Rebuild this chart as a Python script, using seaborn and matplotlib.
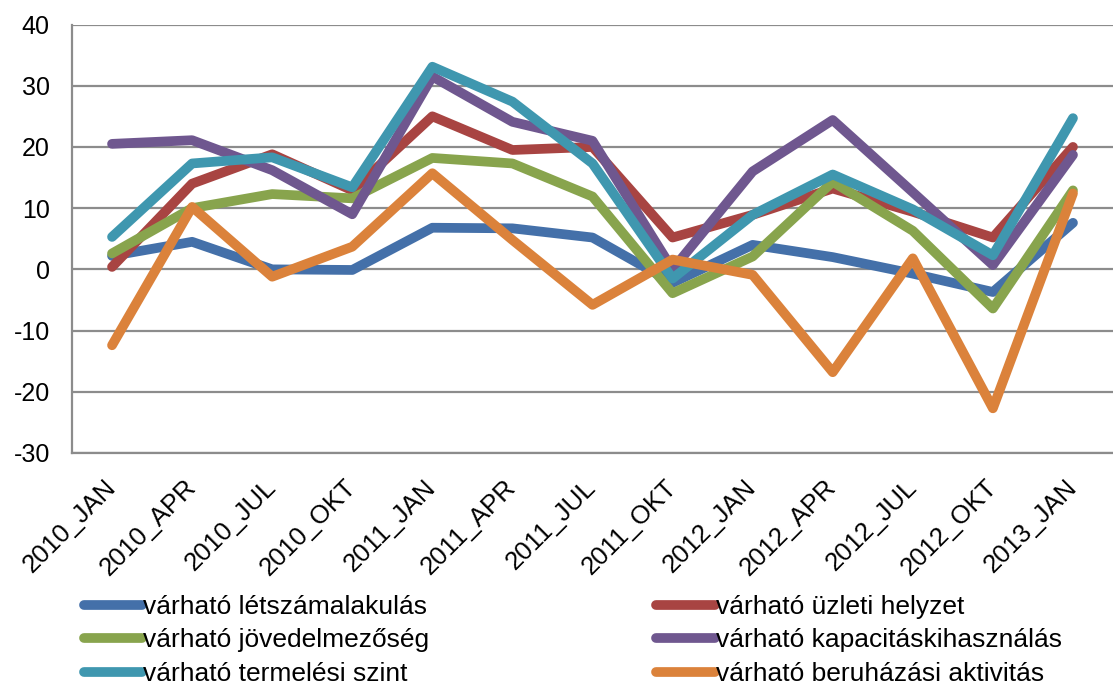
import pandas as pd
import matplotlib
matplotlib.use('Agg')
import matplotlib.pyplot as plt
import seaborn as sns

# -------------------------
# Data
# -------------------------
negyedevek = ['2010_JAN', '2010_APR', '2010_JUL', '2010_OKT',
              '2011_JAN', '2011_APR', '2011_JUL', '2011_OKT',
              '2012_JAN', '2012_APR', '2012_JUL', '2012_OKT', '2013_JAN']

letszam = [2.2, 4.5, 0.0, -0.1, 6.8, 6.7, 5.2, -2.2, 4.0, 2.0, -0.7, -3.7, 7.6]
uzleti = [0.4, 14.0, 18.8, 12.9, 25.0, 19.5, 20.0, 5.2, 8.9, 13.2, 9.4, 5.2, 20.0]
jovedelem = [2.6, 10.0, 12.3, 11.6, 18.2, 17.3, 11.9, -3.9, 2.1, 14.3, 6.3, -6.4, 12.9]
kapacitas = [20.5, 21.1, 16.2, 9.0, 31.5, 24.1, 21.0, 0.0, 16.0, 24.4, 12.6, 0.7, 18.7]
termeles = [5.3, 17.3, 18.3, 13.4, 33.1, 27.4, 17.3, -1.5, 8.9, 15.5, 9.8, 2.3, 24.7]
beruhazas = [-12.4, 10.2, -1.2, 3.7, 15.7, 4.8, -5.8, 1.6, -0.9, -16.8, 1.8, -22.7, 12.4]

sorozatok = {
    'várható létszámalakulás': letszam,
    'várható üzleti helyzet': uzleti,
    'várható jövedelmezőség': jovedelem,
    'várható kapacitáskihasználás': kapacitas,
    'várható termelési szint': termeles,
    'várható beruházási aktivitás': beruhazas,
}
szinek = ['#4470A9', '#A84442', '#88A44D', '#6F578F', '#3F97AF', '#DB823B']

# long format for seaborn
rows = []
for nev, ertekek in sorozatok.items():
    for i, v in enumerate(ertekek):
        rows.append({'idx': i, 'negyedev': negyedevek[i], 'mutato': nev, 'ertek': v})
df = pd.DataFrame(rows)

# -------------------------
# Plot
# -------------------------
sns.set_style('white')
plt.rcParams['font.family'] = ['Liberation Sans', 'DejaVu Sans']
plt.rcParams['axes.unicode_minus'] = False
plt.rcParams['text.color'] = 'black'
plt.rcParams['xtick.labelcolor'] = 'black'
plt.rcParams['ytick.labelcolor'] = 'black'

fig = plt.figure(figsize=(11.13, 6.89), dpi=100)
ax = fig.add_axes([72 / 1113, 236 / 689, 1 - 72 / 1113, 428.5 / 689])

grid_color = '#8C8C8C'
for y in range(-30, 41, 10):
    ax.axhline(y, color=grid_color, linewidth=1.6, zorder=0)

sns.lineplot(data=df, x='idx', y='ertek', hue='mutato',
             hue_order=list(sorozatok.keys()), palette=szinek,
             linewidth=7, sort=False, legend=False, ax=ax,
             solid_capstyle='round', solid_joinstyle='round')

ax.set_xlim(-0.5, 12.4)
ax.set_ylim(-30, 40)
ax.set_yticks(range(-30, 41, 10))
ax.set_xlabel('')
ax.set_ylabel('')

for side in ['top', 'right']:
    ax.spines[side].set_visible(False)
for side in ['left', 'bottom']:
    ax.spines[side].set_color(grid_color)
    ax.spines[side].set_linewidth(1.6)

# category labels at centers, tick marks between categories
ax.set_xticks(range(len(negyedevek)))
ax.set_xticklabels(negyedevek, rotation=45, ha='right', rotation_mode='anchor')
ax.set_xticks([i - 0.5 for i in range(len(negyedevek) + 1)], minor=True)
ax.tick_params(axis='x', which='major', length=0, pad=22, labelsize=18.5)
ax.tick_params(axis='x', which='minor', length=7, width=1.6, color=grid_color, direction='out')
ax.tick_params(axis='y', length=6, width=1.6, color=grid_color, direction='out',
               pad=10, labelsize=18)
for lbl in ax.get_xticklabels():
    lbl.set_va('center')

# legend: Excel style, two columns row-major
handles = [plt.Line2D([], [], color=c, linewidth=7, solid_capstyle='round')
           for c in szinek]
nevek = list(sorozatok.keys())
sorrend = [0, 2, 4, 1, 3, 5]
fig.legend([handles[i] for i in sorrend], [nevek[i] for i in sorrend],
           ncol=2, loc='upper left', bbox_to_anchor=(84 / 1113, 1 - 595 / 689),
           frameon=False, fontsize=19, handlelength=2.2, handletextpad=0.05,
           labelspacing=0.36, columnspacing=8.6, borderpad=0, borderaxespad=0)

fig.savefig('out.png', dpi=100)
